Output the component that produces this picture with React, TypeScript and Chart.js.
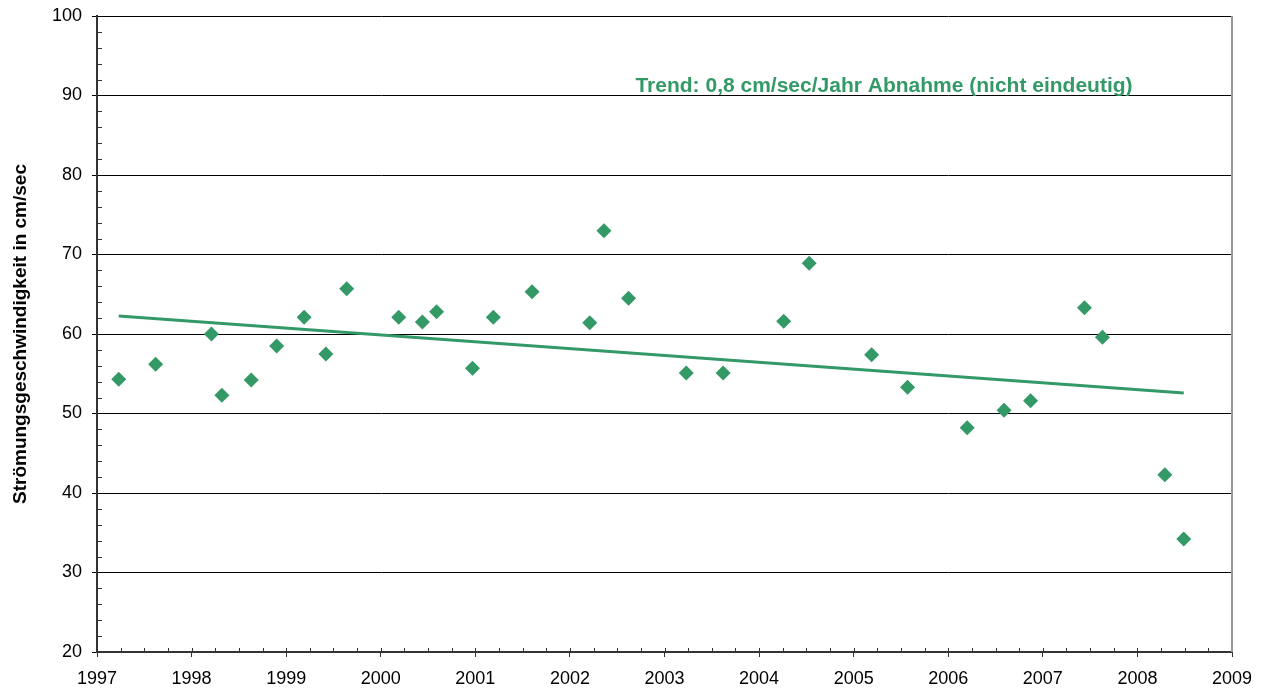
import React, { useEffect, useRef } from 'react';
import { Chart, registerables } from 'chart.js';

Chart.register(...registerables);

const FONT = '"Liberation Sans", Arial, sans-serif';
const GREEN = '#339966';

const sampleDates = [
  1997.23, 1997.62, 1998.21, 1998.32, 1998.63, 1998.9, 1999.19, 1999.42, 1999.64,
  2000.19, 2000.44, 2000.59, 2000.97, 2001.19, 2001.6, 2002.21, 2002.36, 2002.62,
  2003.23, 2003.62, 2004.26, 2004.53, 2005.19, 2005.57, 2006.2, 2006.59, 2006.87,
  2007.44, 2007.63, 2008.29, 2008.49,
];
const flowSpeeds = [
  54.3, 56.2, 60.0, 52.3, 54.2, 58.5, 62.1, 57.5, 65.7,
  62.1, 61.5, 62.8, 55.7, 62.1, 65.3, 61.4, 73.0, 64.5,
  55.1, 55.1, 61.6, 68.9, 57.4, 53.3, 48.2, 50.4, 51.6,
  63.3, 59.6, 42.3, 34.2,
];
const trendDates = [1997.23, 2008.49];
const trendValues = [62.26, 52.58];
const xTickYears = [1997, 1998, 1999, 2000, 2001, 2002, 2003, 2004, 2005, 2006, 2007, 2008, 2009];
const yAxisTitle = 'Strömungsgeschwindigkeit in cm/sec';
const trendLabel = 'Trend: 0,8 cm/sec/Jahr Abnahme (nicht eindeutig)';

const extrasPlugin = {
  id: 'extras',
  afterDraw(chart: any) {
    const { ctx, chartArea, scales } = chart;
    const xs = scales.x;
    const ys = scales.y;
    ctx.save();
    ctx.strokeStyle = '#333';
    ctx.lineWidth = 1;
    // y minor ticks (inside)
    for (let v = 22; v < 100; v += 2) {
      if (v % 10 === 0) continue;
      const py = Math.round(ys.getPixelForValue(v)) + 0.5;
      ctx.beginPath();
      ctx.moveTo(chartArea.left, py);
      ctx.lineTo(chartArea.left + 5, py);
      ctx.stroke();
    }
    // x quarter ticks (inside)
    for (let q = 1; q <= 48; q++) {
      const v = 1997 + q / 4;
      const px = Math.round(xs.getPixelForValue(v)) + 0.5;
      ctx.beginPath();
      ctx.moveTo(px, chartArea.bottom);
      ctx.lineTo(px, chartArea.bottom - 4);
      ctx.stroke();
    }
    // right border
    ctx.strokeStyle = '#999';
    ctx.lineWidth = 2;
    ctx.beginPath();
    ctx.moveTo(chartArea.right, chartArea.top);
    ctx.lineTo(chartArea.right, chartArea.bottom);
    ctx.stroke();
    // annotation
    ctx.fillStyle = GREEN;
    ctx.font = `bold 21px ${FONT}`;
    ctx.textAlign = 'center';
    ctx.textBaseline = 'middle';
    ctx.fillText(trendLabel, 884, 86);
    ctx.restore();
  },
};

export default function App() {
  const ref = useRef<HTMLCanvasElement | null>(null);

  useEffect(() => {
    if (!ref.current) return;
    const points = sampleDates.map((d, i) => ({ x: d, y: flowSpeeds[i] }));
    const trend = trendDates.map((d, i) => ({ x: d, y: trendValues[i] }));
    const chart = new Chart(ref.current, {
      type: 'scatter',
      data: {
        datasets: [
          {
            type: 'line',
            data: trend,
            borderColor: GREEN,
            borderWidth: 3,
            pointRadius: 0,
            fill: false,
            order: 2,
          } as any,
          {
            type: 'scatter',
            data: points,
            pointStyle: 'rectRot',
            pointRadius: 7.5,
            backgroundColor: GREEN,
            borderWidth: 0,
            order: 1,
          } as any,
        ],
      },
      options: {
        animation: false,
        responsive: true,
        maintainAspectRatio: false,
        layout: { padding: { top: 16, right: 36, bottom: 0, left: 0 } },
        plugins: { legend: { display: false }, tooltip: { enabled: false } },
        scales: {
          x: {
            type: 'linear',
            min: 1997,
            max: 2009,
            afterBuildTicks: (s: any) => {
              s.ticks = xTickYears.map((v) => ({ value: v }));
            },
            afterFit: (s: any) => {
              s.height = 41;
              s.paddingLeft = 0;
              s.paddingRight = 0;
            },
            ticks: {
              callback: (v: any) => String(v),
              font: { size: 18, family: FONT },
              color: '#000',
              padding: 11,
              maxRotation: 0,
              autoSkip: false,
            },
            grid: { drawOnChartArea: false, drawTicks: true, tickLength: 5, color: '#333' },
            border: { color: '#333', width: 2 },
          },
          y: {
            min: 20,
            max: 100,
            afterFit: (s: any) => {
              s.width = 97;
              s.paddingTop = 0;
              s.paddingBottom = 0;
            },
            ticks: {
              stepSize: 10,
              font: { size: 18, family: FONT },
              color: '#000',
              padding: 10,
            },
            grid: { color: '#000', lineWidth: 1, tickLength: 5 },
            border: { color: '#333', width: 2 },
            title: {
              display: true,
              text: yAxisTitle,
              font: { size: 19, weight: 'bold', family: FONT },
              color: '#000',
              padding: { top: 9, bottom: 0 },
            },
          },
        },
      },
      plugins: [extrasPlugin],
    });
    return () => chart.destroy();
  }, []);

  return (
    <div style={{ position: 'absolute', left: 0, top: 0, width: 1268, height: 693, background: '#fff' }}>
      <canvas ref={ref} />
    </div>
  );
}
